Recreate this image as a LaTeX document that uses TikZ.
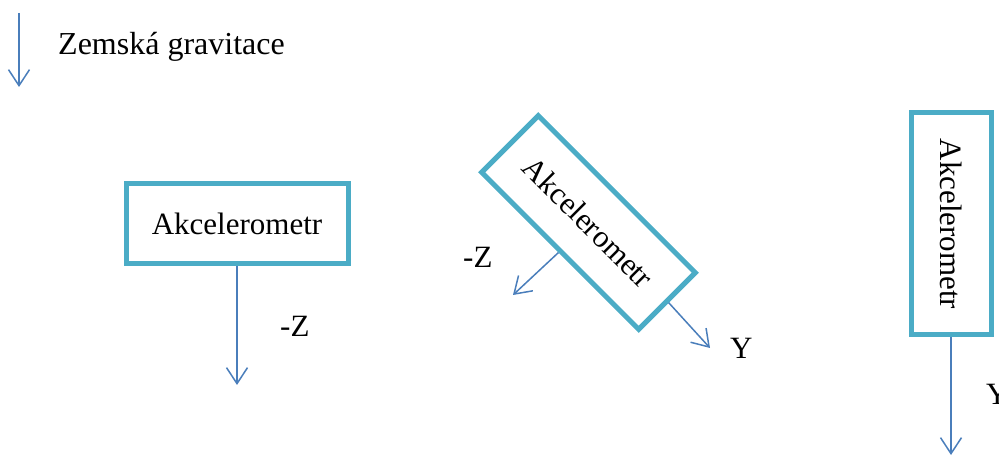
\documentclass[tikz,border=0pt]{standalone}
\usepackage{fontspec}
\setmainfont{Liberation Serif}
\usetikzlibrary{arrows.meta}
\definecolor{boxc}{RGB}{75,172,198}
\definecolor{arrc}{RGB}{74,126,187}
\begin{document}
\begin{tikzpicture}[x=1pt,y=1pt,
  txt/.style={font=\fontsize{31}{37}\selectfont, inner sep=0pt},
  accbox/.style={draw=boxc, line width=5pt, fill=white, minimum width=222pt, minimum height=80pt, inner sep=0pt, font=\fontsize{31}{37}\selectfont},
  vec/.style={draw=arrc, line width=1.5pt, -{Straight Barb[length=16pt,width=21pt,line width=1.5pt]}}]
\useasboundingbox (0,0) rectangle (999,458);
% legend
\coordinate (g1) at (19,445);
\coordinate (g2) at (19,371);
\draw[vec] (g1) -- (g2);
\node[txt, font=\fontsize{32}{38}\selectfont, anchor=base west] (gt) at (58,403) {Zemská gravitace};
% box 1
\node[accbox] (b1) at (237,234.5) {Akcelerometr};
\coordinate (e1) at (237,73);
\draw[vec] (b1.south) -- (e1);
\node[txt, anchor=base west] (l1) at (280,121) {-Z};
% box 2
\node[accbox, rotate=-45] (b2) at (588.5,235.5) {Akcelerometr};
\coordinate (e2) at (513,163);
\coordinate (e3) at (710,110);
\draw[vec] (b2.south) -- (e2);
\draw[vec] (b2.east) -- (e3);
\node[txt, anchor=base west] (l2) at (463,190) {-Z};
\node[txt, anchor=base west] (l3) at (730,99) {Y};
% box 3
\node[accbox, rotate=-90] (b3) at (951,234) {Akcelerometr};
\coordinate (e4) at (951,3);
\draw[vec] (b3.east) -- (e4);
\node[txt, anchor=base west] (l4) at (986,53) {Y};
\end{tikzpicture}
\end{document}
